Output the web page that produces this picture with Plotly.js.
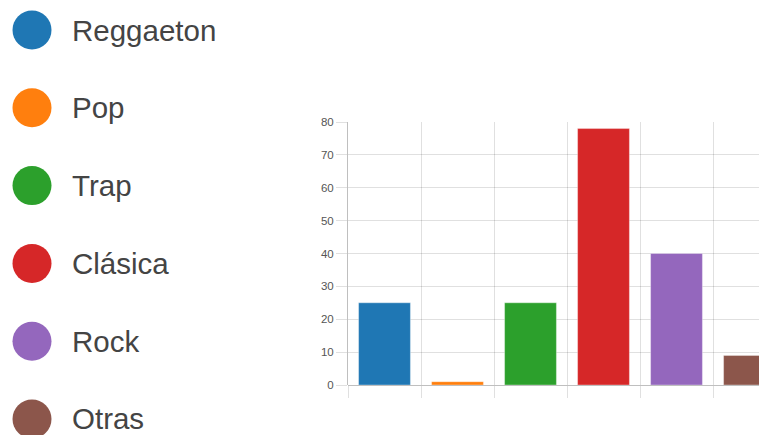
<!DOCTYPE html>
<html>
<head>
<meta charset="utf-8">
<script src="https://cdn.plot.ly/plotly-3.0.1.min.js"></script>
<style>
html,body{margin:0;padding:0;background:#fff;overflow:hidden;}
#chart{width:759px;height:435px;}
</style>
</head>
<body>
<div id="chart"></div>
<script>
const categories = ["Reggaeton", "Pop", "Trap", "Clásica", "Rock", "Otras"];
const values = [25, 1, 25, 78, 40, 9];
const colors = ["#1f77b4", "#ff7f0e", "#2ca02c", "#d62728", "#9467bd", "#8c564b"];
const yTicks = [0, 10, 20, 30, 40, 50, 60, 70, 80];

const bars = {
  type: "bar",
  x: categories,
  y: values,
  marker: {color: colors, line: {color: "rgba(255,255,255,0.35)", width: 1}},
  hoverinfo: "none",
  showlegend: false,
  xaxis: "x",
  yaxis: "y"
};

const legendDots = {
  type: "scatter",
  mode: "markers",
  x: categories.map(() => 0),
  y: categories,
  marker: {color: colors, size: 39},
  hoverinfo: "none",
  showlegend: false,
  cliponaxis: false,
  xaxis: "x2",
  yaxis: "y2"
};

const annotations = categories.map(c => ({
  xref: "x2", yref: "y2", x: 0, y: c,
  text: c, showarrow: false,
  xanchor: "left", yanchor: "middle", xshift: 38,
  font: {family: "Liberation Sans, Arial, sans-serif", size: 29.5, color: "#444"}
}));

const layout = {
  width: 759, height: 435,
  margin: {l: 0, r: 0, t: 0, b: 0, pad: 0},
  paper_bgcolor: "#fff", plot_bgcolor: "#fff",
  font: {family: "Liberation Sans, Arial, sans-serif", color: "#666"},
  bargap: 0.29,
  xaxis: {
    domain: [348/759, 1],
    type: "category",
    range: [-0.5, 5.13],
    tickson: "boundaries",
    ticks: "outside", ticklen: 12, tickcolor: "rgba(0,0,0,0.12)", tickwidth: 1,
    showticklabels: false,
    showgrid: true, gridcolor: "rgba(0,0,0,0.12)", gridwidth: 1,
    showline: false, zeroline: false, fixedrange: true
  },
  yaxis: {
    domain: [50/435, 313/435],
    range: [0, 80],
    tickvals: yTicks,
    ticktext: yTicks.map(String),
    ticks: "outside", ticklen: 11, tickcolor: "rgba(0,0,0,0.12)", tickwidth: 1,
    tickfont: {size: 11.5, color: "#555"},
    showgrid: true, gridcolor: "rgba(0,0,0,0.12)", gridwidth: 1,
    zeroline: true, zerolinecolor: "rgba(0,0,0,0.25)", zerolinewidth: 1,
    showline: true, linecolor: "rgba(0,0,0,0.25)", linewidth: 1,
    fixedrange: true
  },
  xaxis2: {
    domain: [0, 0.3], range: [-32, 195.7],
    visible: false, fixedrange: true
  },
  yaxis2: {
    domain: [0, 1], type: "category",
    range: [5.206, -0.386],
    visible: false, fixedrange: true, anchor: "x2"
  },
  annotations: annotations
};

Plotly.newPlot("chart", [bars, legendDots], layout, {displayModeBar: false, staticPlot: true});
</script>
</body>
</html>
